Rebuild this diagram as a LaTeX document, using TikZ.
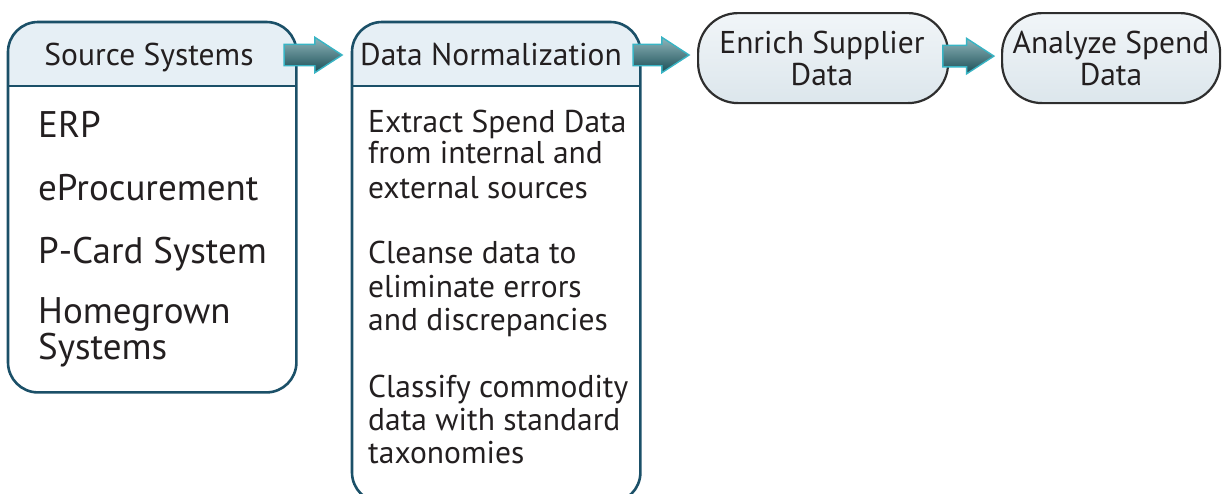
\documentclass[tikz,border=0pt]{standalone}
\usepackage{fontspec}
\setmainfont{PT Sans}
\usetikzlibrary{shapes.arrows,calc}
\definecolor{tealborder}{HTML}{1B5068}
\definecolor{headfill}{HTML}{E6EFF5}
\definecolor{txt}{HTML}{231F20}
\definecolor{arrowedge}{HTML}{38B4C4}
\definecolor{arrowlight}{HTML}{8FB5BA}
\definecolor{arrowdark}{HTML}{1A4E56}
\definecolor{pilltop}{HTML}{F1F5F8}
\definecolor{pillbot}{HTML}{DCE6EC}
\definecolor{pillborder}{HTML}{2E2E2E}
\begin{document}
\begin{tikzpicture}[x=1pt,y=-1pt,
  panel/.style={draw=tealborder,line width=2.6pt,rounded corners=30pt},
  panelbox/.style={minimum width=288pt,inner sep=0pt,anchor=north west},
  pill/.style={draw=pillborder,line width=2.2pt,rounded corners=40pt,
    top color=pilltop,bottom color=pillbot,inner sep=0pt,anchor=north west,
    minimum height=90pt},
  blockarrow/.style={single arrow,draw=arrowedge,line width=1.4pt,
    top color=arrowlight,bottom color=arrowdark,inner sep=0pt,inner ysep=10pt,
    single arrow head extend=7pt,single arrow tip angle=66,anchor=tail},
  hdrtext/.style={anchor=base,text=txt,inner sep=0pt,font=\fontsize{31.5}{36}\selectfont},
  itemtext/.style={anchor=base west,text=txt,inner sep=0pt,font=\fontsize{37}{42}\selectfont},
  normtext/.style={anchor=base west,text=txt,inner sep=0pt,font=\fontsize{31.5}{36}\selectfont},
  pilltext/.style={anchor=base,text=txt,inner sep=0pt,font=\fontsize{31.5}{36}\selectfont}]
\useasboundingbox (0,0) rectangle (1222,493);
% --- panel 1: Source Systems
\path node[panelbox,minimum height=370pt] (src) at (8,22) {};
\begin{scope}
  \clip[rounded corners=30pt] (src.north west) rectangle (src.south east);
  \fill[headfill] (src.north west) rectangle ($(src.north east)+(0,64)$);
\end{scope}
\draw[tealborder,line width=2.6pt] ($(src.north west)+(0,64)$) -- ($(src.north east)+(0,64)$);
\draw[panel] (src.north west) rectangle (src.south east);
\node[hdrtext] (srch) at (149,65) {Source Systems};
\node[itemtext] (i1) at (38,137) {ERP};
\node[itemtext] (i2) at (38,200) {eProcurement};
\node[itemtext] (i3) at (38,263) {P-Card System};
\node[itemtext,align=left,font=\fontsize{37}{31.5}\selectfont] (i4) at (38,359) {Homegrown\\Systems};
% --- panel 2: Data Normalization
\path node[panelbox,minimum height=480pt] (norm) at (352,22) {};
\begin{scope}
  \clip[rounded corners=30pt] (norm.north west) rectangle (norm.south east);
  \fill[headfill] (norm.north west) rectangle ($(norm.north east)+(0,64)$);
\end{scope}
\draw[tealborder,line width=2.6pt] ($(norm.north west)+(0,64)$) -- ($(norm.north east)+(0,64)$);
\draw[panel] (norm.north west) rectangle (norm.south east);
\node[hdrtext] (normh) at (491,65) {Data Normalization};
\node[normtext] (n1) at (368,132) {Extract Spend Data};
\node[normtext] (n2) at (368,163) {from internal and};
\node[normtext] (n3) at (368,198) {external sources};
\node[normtext] (n4) at (368,263) {Cleanse data to};
\node[normtext] (n5) at (368,297) {eliminate errors};
\node[normtext] (n6) at (368,330) {and discrepancies};
\node[normtext] (n7) at (368,397) {Classify commodity};
\node[normtext] (n8) at (368,430) {data with standard};
\node[normtext] (n9) at (368,463) {taxonomies};
% --- pills
\node[pill,minimum width=250pt] (enr) at (697,12) {};
\node[pilltext] (enrt1) at (822,53) {Enrich Supplier};
\node[pilltext] (enrt2) at (822,85) {Data};
\node[pill,minimum width=218pt] (ana) at (1001,12) {};
\node[pilltext] (anat1) at (1111,53) {Analyze Spend};
\node[pilltext] (anat2) at (1111,85) {Data};
% --- block arrows
\node[blockarrow,minimum height=58pt] (a1) at ($(src.north east)+(-13,33)$) {};
\node[blockarrow,minimum height=56pt] (a2) at ($(norm.north east)+(-8,33)$) {};
\node[blockarrow,minimum height=51pt] (a3) at ($(enr.east)+(-7,-2)$) {};
\end{tikzpicture}
\end{document}
